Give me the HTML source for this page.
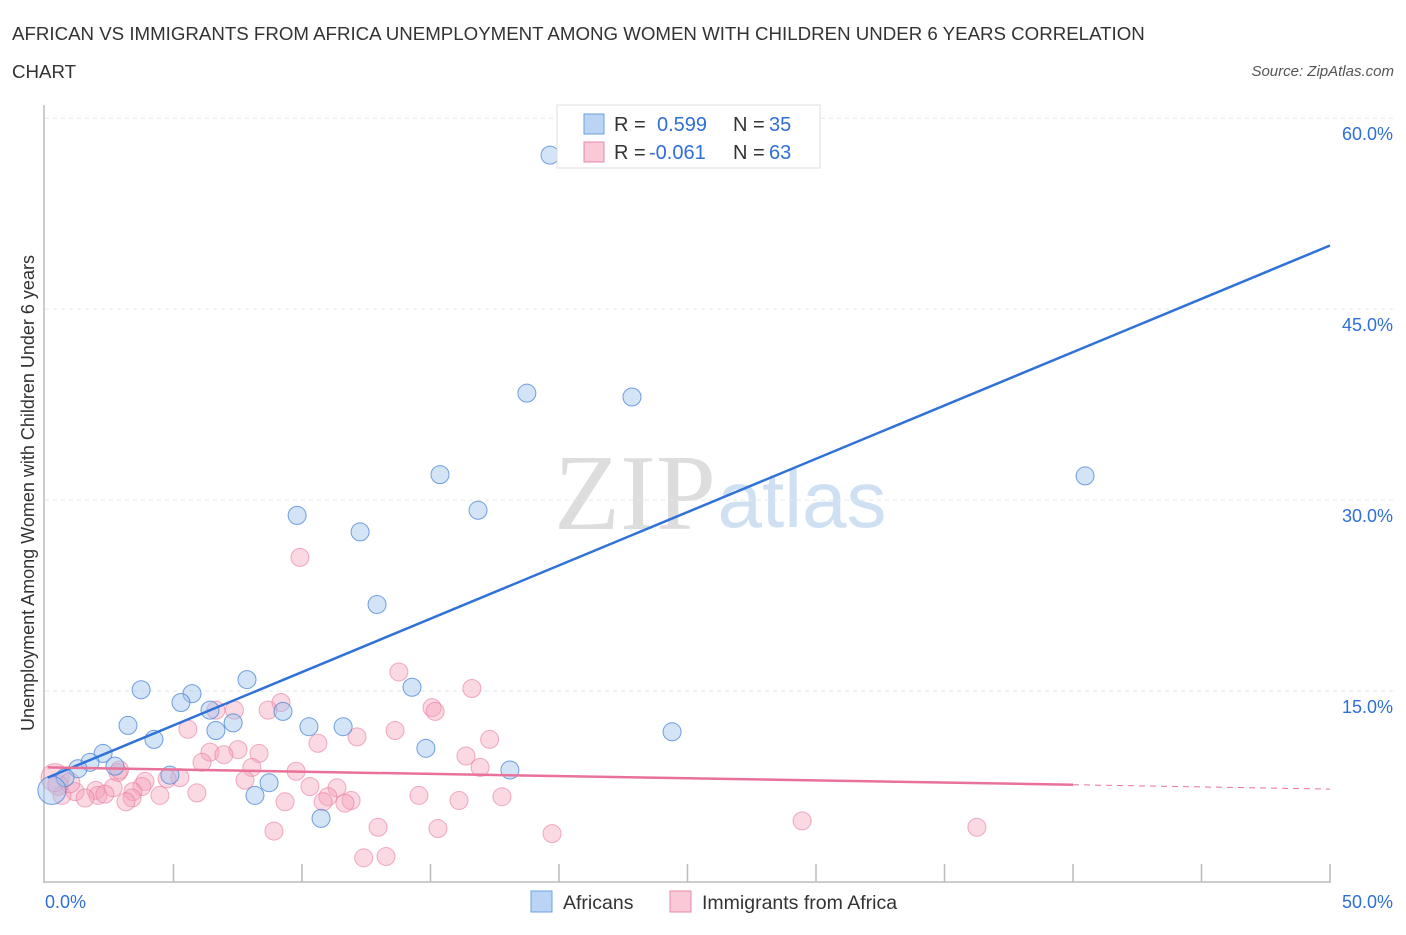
<!DOCTYPE html>
<html><head><meta charset="utf-8"><style>
body{margin:0;background:#fff;font-family:"Liberation Sans",sans-serif}
</style></head><body>
<svg width="1406" height="930" xmlns="http://www.w3.org/2000/svg" id="svg" font-family="Liberation Sans, sans-serif">
<text x="12" y="40" font-size="18.7" fill="#333">AFRICAN VS IMMIGRANTS FROM AFRICA UNEMPLOYMENT AMONG WOMEN WITH CHILDREN UNDER 6 YEARS CORRELATION</text>
<text x="12" y="78" font-size="18.7" fill="#333">CHART</text>
<text x="1394" y="76" font-size="15" fill="#555" font-style="italic" text-anchor="end">Source: ZipAtlas.com</text>
<text x="635" y="529" font-size="108" fill="#ddd" font-family="Liberation Serif, serif" text-anchor="middle">ZIP</text>
<text x="802" y="527" font-size="80" fill="#cfe0f3" text-anchor="middle">atlas</text>
<g id="grid"></g>
<g id="pts"></g>
<g id="lines"></g>
<text transform="translate(34,493) rotate(-90)" font-size="18" fill="#333" text-anchor="middle">Unemployment Among Women with Children Under 6 years</text>
<g>
<rect x="557" y="105" width="263" height="63" fill="#fff" stroke="#ddd"/>
<rect x="584" y="114" width="20" height="20" fill="#b9d4f4" stroke="#6a9fe0"/>
<rect x="584" y="142" width="20" height="20" fill="#f9c9d7" stroke="#e88aa8"/>
<text x="614" y="131" font-size="20" fill="#333">R =</text><text x="657" y="131" font-size="20" fill="#2f6fd6">0.599</text>
<text x="733" y="131" font-size="20" fill="#333">N =</text><text x="769" y="131" font-size="20" fill="#2f6fd6">35</text>
<text x="614" y="159" font-size="20" fill="#333">R =</text><text x="649" y="159" font-size="20" fill="#2f6fd6">-0.061</text>
<text x="733" y="159" font-size="20" fill="#333">N =</text><text x="769" y="159" font-size="20" fill="#2f6fd6">63</text>
</g>
<g>
<rect x="531" y="891" width="21" height="21" fill="#b9d4f4" stroke="#6a9fe0"/>
<text x="563" y="909" font-size="19.5" fill="#333">Africans</text>
<rect x="670" y="891" width="21" height="21" fill="#f9c9d7" stroke="#e88aa8"/>
<text x="702" y="909" font-size="19.5" fill="#333">Immigrants from Africa</text>
</g>
</svg>
<script>
const yTicks=[15,30,45,60];
const yTickLabels=["15.0%","30.0%","45.0%","60.0%"];
const xTicks=[5,10,15,20,25,30,35,40,45,50];
const africansX=[19.65,18.75,22.84,40.47,15.37,16.85,9.81,12.26,12.92,3.74,7.86,5.72,5.29,14.28,6.42,9.26,7.32,3.23,6.65,10.27,11.6,24.4,4.24,14.82,2.26,1.75,2.72,1.28,18.09,4.86,0.78,8.72,8.17,10.74,0.27];
const africansY=[57.1,38.4,38.1,31.9,32.0,29.2,28.8,27.5,21.8,15.1,15.9,14.8,14.1,15.3,13.5,13.4,12.5,12.3,11.9,12.2,12.2,11.8,11.2,10.5,10.1,9.4,9.1,8.9,8.8,8.4,8.2,7.8,6.8,5.0,7.2];
const immX=[9.92,13.77,16.61,9.18,8.68,15.06,15.18,6.65,7.37,5.56,13.62,12.14,17.3,10.62,6.42,7.51,8.33,6.96,16.38,6.11,16.93,8.05,9.77,2.84,5.25,4.75,3.89,7.78,3.77,2.65,1.98,1.17,10.31,11.36,2.06,3.42,2.33,4.47,5.91,3.39,1.56,14.55,17.78,11.01,10.82,11.91,11.67,9.34,16.11,3.15,0.66,12.96,15.29,8.91,19.73,29.46,36.26,12.4,13.27,0.39,0.97,0.5,2.9];
const immY=[25.5,16.5,15.2,14.1,13.5,13.7,13.4,13.5,13.5,12.0,11.9,11.4,11.2,10.9,10.2,10.4,10.1,10.0,9.9,9.4,9.0,9.0,8.7,8.6,8.2,8.1,7.9,8.0,7.5,7.4,7.2,7.1,7.5,7.4,6.8,7.1,6.9,6.8,7.0,6.6,6.6,6.8,6.7,6.7,6.3,6.4,6.2,6.3,6.4,6.3,6.8,4.3,4.2,4.0,3.8,4.8,4.3,1.9,2.0,8.2,7.8,7.6,8.8];
const blueTrend=[8.2,50.0];
const pinkTrend=[9.0,7.3];
const sx=v=>45+v*25.7, sy=v=>882-v*12.73;
const NS="http://www.w3.org/2000/svg";
function mk(p,t,a){const e=document.createElementNS(NS,t);for(const k in a)e.setAttribute(k,a[k]);p.appendChild(e);return e;}
const grid=document.getElementById('grid');
yTicks.forEach((t,i)=>{
 const l=mk(grid,'line',{x1:45,x2:1394,y1:sy(t),y2:sy(t),stroke:'#e6e6e6','stroke-dasharray':'4,4'});
 
 
 const tx=mk(grid,'text',{x:1393,y:sy(t)+22,'font-size':18,fill:'#2f6fd6','text-anchor':'end'});
 tx.textContent=yTickLabels[i];
 
 
});
const ax=mk(grid,'line',{x1:44,x2:44,y1:105,y2:883,stroke:'#bbb','stroke-width':1.5});


const bx=mk(grid,'line',{x1:44,x2:1331,y1:882,y2:882,stroke:'#bbb','stroke-width':1.5});


xTicks.forEach(t=>{
 const l=mk(grid,'line',{x1:sx(t),x2:sx(t),y1:864,y2:882,stroke:'#bbb','stroke-width':1.5});
 
 
});
const x0=mk(grid,'text',{x:45,y:908,'font-size':18,fill:'#2f6fd6'});x0.textContent='0.0%';


const x1=mk(grid,'text',{x:1393,y:908,'font-size':18,fill:'#2f6fd6','text-anchor':'end'});x1.textContent='50.0%';


const pts=document.getElementById('pts');
immX.forEach((x,i)=>{
 const c=mk(pts,'circle',{cx:sx(x),cy:sy(immY[i]),r:i>=59&&i<=61?(i==59?14:10):9,fill:'rgba(244,160,186,0.4)',stroke:'rgba(232,120,156,0.6)','stroke-width':1});
 
 
});
africansX.forEach((x,i)=>{
 const c=mk(pts,'circle',{cx:sx(x),cy:sy(africansY[i]),r:i==34?14:9,fill:'rgba(160,196,238,0.45)',stroke:'rgba(70,130,215,0.75)','stroke-width':1});
 
 
});
const lines=document.getElementById('lines');
const b=mk(lines,'line',{x1:sx(0.1),y1:sy(blueTrend[0]),x2:sx(50),y2:sy(blueTrend[1]),stroke:'#2f72d8','stroke-width':2.5});


const pm=pinkTrend[0]+(pinkTrend[1]-pinkTrend[0])*0.8;
const p=mk(lines,'line',{x1:sx(0.1),y1:sy(pinkTrend[0]),x2:sx(40),y2:sy(pm),stroke:'#e8729a','stroke-width':2.5});


const pd=mk(lines,'line',{x1:sx(40),y1:sy(pm),x2:sx(50),y2:sy(pinkTrend[1]),stroke:'#e8729a','stroke-width':1,'stroke-dasharray':'6,5'});


</script>
</body></html>
